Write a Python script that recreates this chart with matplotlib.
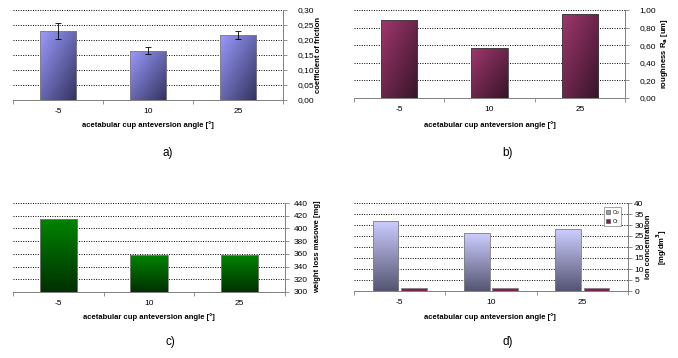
import numpy as np
import matplotlib
matplotlib.use("Agg")
import matplotlib.pyplot as plt
from matplotlib.ticker import FuncFormatter
from matplotlib.patches import Patch

plt.rcParams['font.family'] = ['Liberation Sans', 'DejaVu Sans']

# data
angles = ["-5", "10", "25"]
friction = [0.230, 0.165, 0.218]
friction_err = [0.027, 0.011, 0.013]
roughness = [0.887, 0.566, 0.951]
weight_loss = [415, 358, 358]
co_conc = [31.9, 26.2, 28.0]
cr_conc = [1.5, 1.5, 1.5]

W, H = 678, 358
fig = plt.figure(figsize=(W / 100, H / 100), dpi=100)
GRAY = "#808080"


def px_axes(x0, y0, x1, y1):
    return fig.add_axes([x0 / W, 1 - y1 / H, (x1 - x0) / W, (y1 - y0) / H])


def comma_fmt(decimals):
    return FuncFormatter(lambda v, p: ("%.*f" % (decimals, v)).replace(".", ","))


def gradient_fill(ax, bars, light, dark, diagonal=True):
    n = 64
    r = np.linspace(0, 1, n)
    if diagonal:
        t = (r[None, :] + r[:, None]) / 2
    else:
        t = np.repeat(r[:, None], n, axis=1)
    light = np.array(light) / 255
    dark = np.array(dark) / 255
    img = light[None, None, :] * (1 - t[..., None]) + dark[None, None, :] * t[..., None]
    for b in bars:
        x0, y0 = b.get_xy()
        w, h = b.get_width(), b.get_height()
        im = ax.imshow(img, extent=[x0, x0 + w, y0, y0 + h], aspect="auto",
                       zorder=2, interpolation="bilinear")
        im.set_clip_path(b)


def style(ax, ylim, step, fmt, ypad):
    ax.set_xlim(-0.5, 2.5)
    ax.set_ylim(*ylim)
    ax.set_yticks(np.arange(ylim[0], ylim[1] + step / 2, step))
    ax.yaxis.set_major_formatter(fmt)
    ax.yaxis.tick_right()
    ax.tick_params(axis="y", which="major", direction="out", length=3, width=0.6,
                   color=GRAY, labelsize=6, pad=ypad)
    ax.set_xticks([-0.5, 0.5, 1.5, 2.5])
    ax.set_xticklabels([])
    ax.set_xticks([0, 1, 2], minor=True)
    ax.set_xticklabels(angles, minor=True)
    ax.tick_params(axis="x", which="major", direction="out", length=3, width=0.6, color=GRAY)
    ax.tick_params(axis="x", which="minor", length=0, labelsize=6, pad=6)
    for s in ["top", "left"]:
        ax.spines[s].set_visible(False)
    for s in ["right", "bottom"]:
        ax.spines[s].set_color(GRAY)
        ax.spines[s].set_linewidth(0.7)
    ax.yaxis.grid(True, color="black", linestyle=(0, (1, 1.5)), linewidth=0.7)
    ax.set_axisbelow(True)


x = np.arange(len(angles))

# a) coefficient of friction
ax_a = px_axes(13, 10, 283, 100)
bars = ax_a.bar(x, friction, width=0.41, facecolor="none", edgecolor=GRAY, linewidth=0.6, zorder=3)
gradient_fill(ax_a, bars, (155, 155, 255), (50, 50, 95))
ax_a.errorbar(x, friction, yerr=friction_err, fmt="none", ecolor="black",
              elinewidth=0.6, capsize=2, capthick=0.6, zorder=4)
style(ax_a, (0, 0.30), 0.05, comma_fmt(2), 7.5)

# b) roughness
ax_b = px_axes(354, 10, 625, 98)
bars = ax_b.bar(x, roughness, width=0.4, facecolor="none", edgecolor="#404040", linewidth=0.6, zorder=3)
gradient_fill(ax_b, bars, (160, 55, 110), (55, 20, 40))
style(ax_b, (0, 1.00), 0.2, comma_fmt(2), 7.5)

# c) weight loss
ax_c = px_axes(13, 203, 285, 292)
bars = ax_c.bar(x, np.array(weight_loss) - 300, bottom=300, width=0.41, facecolor="none",
                edgecolor=GRAY, linewidth=0.6, zorder=3)
gradient_fill(ax_c, bars, (0, 132, 0), (0, 48, 0), diagonal=False)
style(ax_c, (300, 440), 20, FuncFormatter(lambda v, p: "%d" % v), 3)

# d) ion concentration
ax_d = px_axes(354, 203, 628, 291)
bars_co = ax_d.bar(x - 0.155, co_conc, width=0.28, facecolor="none", edgecolor=GRAY,
                   linewidth=0.6, zorder=3)
gradient_fill(ax_d, bars_co, (205, 205, 255), (85, 85, 115), diagonal=False)
ax_d.bar(x + 0.155, cr_conc, width=0.28, facecolor="#7f2050", edgecolor=GRAY,
         linewidth=0.6, zorder=3)
style(ax_d, (0, 40), 5, FuncFormatter(lambda v, p: "%d" % v), 1.5)
leg = ax_d.legend(handles=[Patch(facecolor="#9999cc", edgecolor="#404040", linewidth=0.4, label="Co"),
                           Patch(facecolor="#7f2050", edgecolor="#404040", linewidth=0.4, label="Cr")],
                  loc="upper right", bbox_to_anchor=(0.985, 0.98), fontsize=3.8,
                  handlelength=0.8, handleheight=0.8, handletextpad=0.4, borderpad=0.4,
                  labelspacing=0.9, fancybox=False, framealpha=1)
leg.get_frame().set_edgecolor(GRAY)
leg.get_frame().set_linewidth(0.5)

# axis titles and panel letters
kw = dict(fontsize=5.5, fontweight="bold", ha="center", va="center")
xl = "acetabular cup anteversion angle [°]"
fig.text(148 / W, 1 - 125 / H, xl, **kw)
fig.text(490 / W, 1 - 125 / H, xl, **kw)
fig.text(149 / W, 1 - 317 / H, xl, **kw)
fig.text(490 / W, 1 - 317 / H, xl, **kw)

fig.text(319 / W, 1 - 55 / H, "coefficient of friction", rotation=90, **kw)
fig.text(664 / W, 1 - 54 / H, "roughness R$_\\mathbf{a}$ [um]", rotation=90, **kw)
fig.text(318 / W, 1 - 247 / H, "weight loss masowe [mg]", rotation=90, **kw)
fig.text(657 / W, 1 - 247 / H, "ion concentration\n[mg/dm$^\\mathbf{3}$]", rotation=90,
         linespacing=1.2, **kw)

for lab, px, py in [("a)", 168, 153), ("b)", 508, 153), ("c)", 170, 342), ("d)", 508, 342)]:
    fig.text(px / W, 1 - py / H, lab, fontsize=8.5, ha="center", va="center")

fig.savefig("out.png", dpi=100)
